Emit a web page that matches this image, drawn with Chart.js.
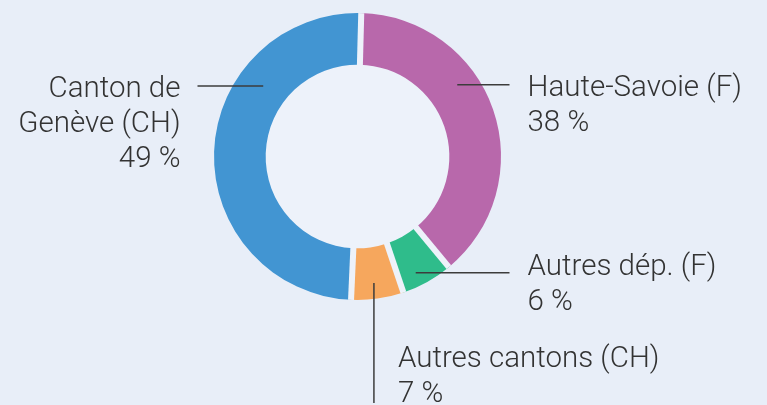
<!DOCTYPE html>
<html>
<head>
<meta charset="utf-8">
<script src="https://cdn.jsdelivr.net/npm/chart.js@4.4.1/dist/chart.umd.min.js"></script>
<style>
  html, body { margin: 0; padding: 0; background: #e8eef8; }
  #wrap { width: 767px; height: 405px; }
</style>
</head>
<body>
<div id="wrap"><canvas id="chart"></canvas></div>
<script>
// data, clockwise from the top
const regions = ["Haute-Savoie (F)", "Autres dép. (F)", "Autres cantons (CH)", "Canton de Genève (CH)"];
const shares = [38.6, 5.8, 5.9, 49.7];
const labelLines = [
  ["Haute-Savoie (F)", "38 %"],
  ["Autres dép. (F)", "6 %"],
  ["Autres cantons (CH)", "7 %"],
  ["Canton de", "Genève (CH)", "49 %"],
];
const colors = ["#b868ab", "#2fbc8b", "#f6a75d", "#4295d2"];

const FONT = '300 29.5px Roboto, "Liberation Sans", sans-serif';
const TEXT_COLOR = "#333333";
const LINE_COLOR = "#3c3c3c";
const HOLE_COLOR = "#edf2fa";
const GAP = 6;

// where each leader line leaves its slice and where its text sits
// f = fraction along the slice, depth = fraction across the ring
const callouts = [
  { f: 0.38, depth: 0.6, dir: "right", lineTo: 152, textAt: 170, baseline: 11, align: "left" },
  { f: 0.62, depth: 0.74, dir: "right", lineTo: 152, textAt: 170, baseline: 2.5, align: "left" },
  { f: 0.53, depth: 0.69, dir: "down", lineTo: 403, textAt: 24, baseline: 84, align: "left" },
  { f: 0.694, depth: 0.5, dir: "left", lineTo: 160, textAt: 177, baseline: 11, align: "right" },
];
const LINE_HEIGHT = 35;

const holePlugin = {
  id: "hole",
  beforeDatasetsDraw(chart) {
    const arc = chart.getDatasetMeta(0).data[0];
    if (!arc) return;
    const ctx = chart.ctx;
    ctx.save();
    ctx.fillStyle = HOLE_COLOR;
    ctx.beginPath();
    ctx.arc(arc.x, arc.y, arc.outerRadius, 0, Math.PI * 2);
    ctx.fill();
    ctx.restore();
  },
  // constant-width light gaps between the slices
  afterDatasetsDraw(chart) {
    const ctx = chart.ctx;
    ctx.save();
    ctx.strokeStyle = HOLE_COLOR;
    ctx.lineWidth = GAP;
    ctx.lineCap = "butt";
    chart.getDatasetMeta(0).data.forEach((arc) => {
      const a = arc.startAngle;
      ctx.beginPath();
      ctx.moveTo(arc.x + Math.cos(a) * (arc.innerRadius - 1), arc.y + Math.sin(a) * (arc.innerRadius - 1));
      ctx.lineTo(arc.x + Math.cos(a) * arc.outerRadius, arc.y + Math.sin(a) * arc.outerRadius);
      ctx.stroke();
    });
    ctx.restore();
  },
};

const calloutPlugin = {
  id: "callouts",
  afterDatasetsDraw(chart) {
    const ctx = chart.ctx;
    const arcs = chart.getDatasetMeta(0).data;
    ctx.save();
    ctx.font = FONT;
    ctx.fillStyle = TEXT_COLOR;
    ctx.strokeStyle = LINE_COLOR;
    ctx.lineWidth = 1.5;
    ctx.textBaseline = "alphabetic";
    arcs.forEach((arc, i) => {
      const c = callouts[i];
      const { x, y, startAngle, endAngle, innerRadius, outerRadius } = arc.getProps(
        ["x", "y", "startAngle", "endAngle", "innerRadius", "outerRadius"], true);
      const a = startAngle + c.f * (endAngle - startAngle);
      const r = innerRadius + c.depth * (outerRadius - innerRadius);
      const ax = x + Math.cos(a) * r;
      const ay = y + Math.sin(a) * r;
      let tx, ty;
      ctx.beginPath();
      ctx.moveTo(ax, ay);
      if (c.dir === "right") {
        ctx.lineTo(x + c.lineTo, ay);
        tx = x + c.textAt;
        ty = ay + c.baseline;
      } else if (c.dir === "left") {
        ctx.lineTo(x - c.lineTo, ay);
        tx = x - c.textAt;
        ty = ay + c.baseline;
      } else {
        ctx.lineTo(ax, c.lineTo);
        tx = ax + c.textAt;
        ty = ay + c.baseline;
      }
      ctx.stroke();
      ctx.textAlign = c.align;
      labelLines[i].forEach((line, k) => {
        ctx.fillText(line, tx, ty + k * LINE_HEIGHT);
      });
    });
    ctx.restore();
  },
};

const chart = new Chart(document.getElementById("chart").getContext("2d"), {
  type: "doughnut",
  data: {
    labels: regions,
    datasets: [{
      data: shares,
      backgroundColor: colors,
      borderWidth: 0,
    }],
  },
  options: {
    responsive: true,
    maintainAspectRatio: false,
    animation: false,
    events: [],
    rotation: 1.5,
    cutout: "64%",
    layout: { padding: { top: 13, bottom: 105, left: 0, right: 52 } },
    plugins: {
      legend: { display: false },
      tooltip: { enabled: false },
    },
  },
  plugins: [holePlugin, calloutPlugin],
});
</script>
</body>
</html>
